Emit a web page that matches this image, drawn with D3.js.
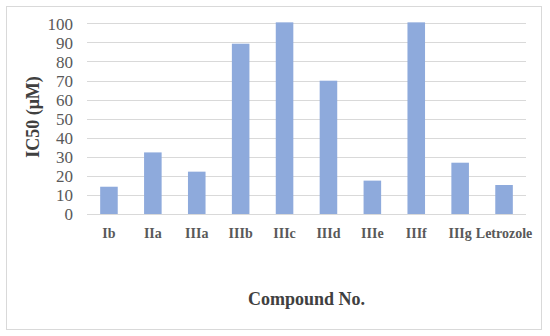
<!DOCTYPE html>
<html><head><meta charset="utf-8">
<script src="https://cdn.jsdelivr.net/npm/d3@7"></script>
<style>body{margin:0;background:#fff;}svg{display:block;}</style>
</head><body>
<script>
const categories = ["Ib","IIa","IIIa","IIIb","IIIc","IIId","IIIe","IIIf","IIIg","Letrozole"];
const values = [14.3, 32.3, 22.2, 89.3, 100.5, 69.9, 17.5, 100.5, 26.9, 15.2];
const yTicks = [0,10,20,30,40,50,60,70,80,90,100];

const W = 550, H = 336;
const m = {left: 87, right: 24, top: 23.3, bottom: 122};
const FONT = "'Liberation Serif', 'Times New Roman', serif";
const svg = d3.select("body").append("svg").attr("width", W).attr("height", H);
svg.append("rect").attr("x",6.5).attr("y",6.5).attr("width",535).attr("height",323)
  .attr("fill","#fff").attr("stroke","#d9d9d9").attr("stroke-width",1);

const x = d3.scaleBand().domain(categories).range([m.left, W - m.right]).paddingInner(0.6).paddingOuter(0.3);
const y = d3.scaleLinear().domain([0,100]).range([214, m.top]);

const g = svg.append("g");
g.selectAll("line.grid").data(yTicks).join("line").attr("class","grid")
  .attr("x1", m.left).attr("x2", W - m.right)
  .attr("y1", d => Math.round(y(d))+0.5).attr("y2", d => Math.round(y(d))+0.5)
  .attr("stroke","#d9d9d9").attr("stroke-width",1);

g.selectAll("rect.bar").data(values).join("rect").attr("class","bar")
  .attr("x",(d,i)=>x(categories[i])).attr("width",x.bandwidth())
  .attr("y",d=>y(d)).attr("height",d=>y(0)-y(d))
  .attr("fill","#8eaadc");

const yAxis = d3.axisLeft(y).tickValues(yTicks).tickSize(0).tickPadding(0);
const ya = svg.append("g").attr("transform","translate(73,0)").call(yAxis);
ya.select(".domain").remove();
ya.selectAll("text").attr("font-family",FONT)
  .attr("font-size",17).attr("fill","#595959").attr("dy","0.35em");

const xAxis = d3.axisBottom(x).tickSize(0).tickPadding(14);
const xa = svg.append("g").attr("transform","translate(0,214)").call(xAxis);
xa.select(".domain").remove();
xa.selectAll("text").attr("font-family",FONT)
  .attr("font-size",14).attr("font-weight","bold").attr("fill","#595959");

svg.append("text").attr("x", (m.left + W - m.right)/2).attr("y", 305)
  .attr("text-anchor","middle").attr("font-family",FONT)
  .attr("font-size",18).attr("font-weight","bold").attr("fill","#404040").text("Compound No.");

svg.append("text").attr("transform","translate(39,117) rotate(-90)")
  .attr("text-anchor","middle").attr("font-family",FONT)
  .attr("font-size",18).attr("font-weight","bold").attr("fill","#404040").text("IC50 (μM)");
</script>
</body></html>
